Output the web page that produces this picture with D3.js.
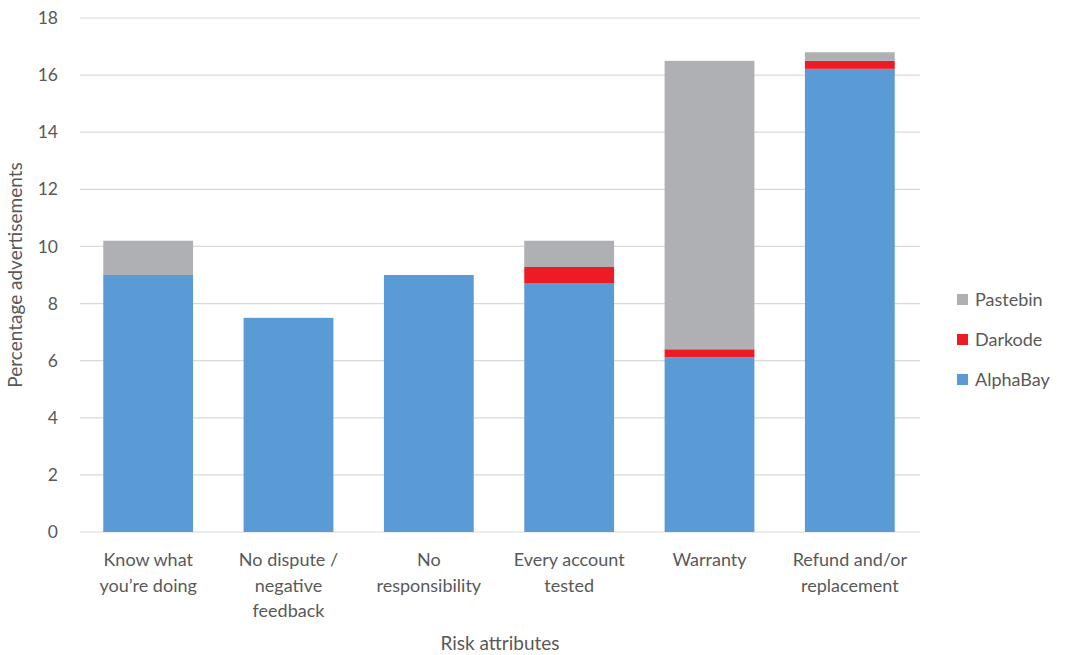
<!DOCTYPE html>
<html><head><meta charset="utf-8">
<script src="https://cdn.jsdelivr.net/npm/d3@7"></script>
<style>body{margin:0;background:#fff;} text{font-family:Lato,"Open Sans",sans-serif;}</style>
</head><body>
<svg id="c" width="1065" height="655"></svg>
<script>
const categories = [["Know what","you’re doing"],["No dispute /","negative","feedback"],["No","responsibility"],["Every account","tested"],["Warranty"],["Refund and/or","replacement"]];
const alphaBay = [9.0, 7.5, 9.0, 8.72, 6.12, 16.22];
const darkode  = [0, 0, 0, 0.56, 0.28, 0.28];
const pastebin = [1.2, 0, 0, 0.92, 10.1, 0.3];
const seriesNames = ["AlphaBay","Darkode","Pastebin"];
const colors = ["#5B9BD5","#ED1C24","#AFB0B4"];
const yTicks = [0,2,4,6,8,10,12,14,16,18];

const svg = d3.select("#c");
const x = d3.scaleBand().domain(d3.range(categories.length)).range([78,920]).paddingInner(0.36).paddingOuter(0.18);
const y = d3.scaleLinear().domain([0,18]).range([532,18]);

svg.append("g").selectAll("line").data(yTicks).join("line")
  .attr("x1",80).attr("x2",920).attr("y1",d=>y(d)).attr("y2",d=>y(d))
  .attr("stroke","#d9d9d9").attr("stroke-width",1.2);

const yAxis = d3.axisLeft(y).tickValues(yTicks).tickSize(0).tickPadding(0);
const ga = svg.append("g").attr("transform","translate(58,0)").call(yAxis);
ga.select(".domain").remove();
ga.selectAll("text").attr("font-size",17.5).attr("fill","#595959").attr("font-family","Lato,'Open Sans',sans-serif");

const data = categories.map((c,i)=>({i, AlphaBay:alphaBay[i], Darkode:darkode[i], Pastebin:pastebin[i]}));
const stack = d3.stack().keys(seriesNames)(data);
svg.append("g").selectAll("g").data(stack).join("g").attr("fill",(d,k)=>colors[k])
  .selectAll("rect").data(d=>d).join("rect")
  .attr("x",d=>x(d.data.i)).attr("width",x.bandwidth())
  .attr("y",d=>y(d[1])).attr("height",d=>Math.max(0,y(d[0])-y(d[1])));

const xl = svg.append("g");
categories.forEach((lines,i)=>{
  const t = xl.append("text").attr("text-anchor","middle").attr("font-size",18).attr("fill","#595959")
    .attr("x",x(i)+x.bandwidth()/2).attr("y",566);
  lines.forEach((l,j)=>t.append("tspan").attr("x",x(i)+x.bandwidth()/2).attr("dy",j?25.5:0).text(l));
});

svg.append("text").attr("x",500).attr("y",650).attr("text-anchor","middle").attr("font-size",19).attr("fill","#595959").text("Risk attributes");
svg.append("text").attr("transform","translate(22,275) rotate(-90)").attr("text-anchor","middle").attr("font-size",19).attr("fill","#595959").text("Percentage advertisements");

const legend = ["Pastebin","Darkode","AlphaBay"];
const lg = svg.append("g");
legend.forEach((n,j)=>{
  const k = seriesNames.indexOf(n);
  lg.append("rect").attr("x",957).attr("y",294+j*40).attr("width",11).attr("height",11).attr("fill",colors[k]);
  lg.append("text").attr("x",975).attr("y",306+j*40).attr("font-size",18).attr("fill","#595959").text(n);
});
</script>
</body></html>
